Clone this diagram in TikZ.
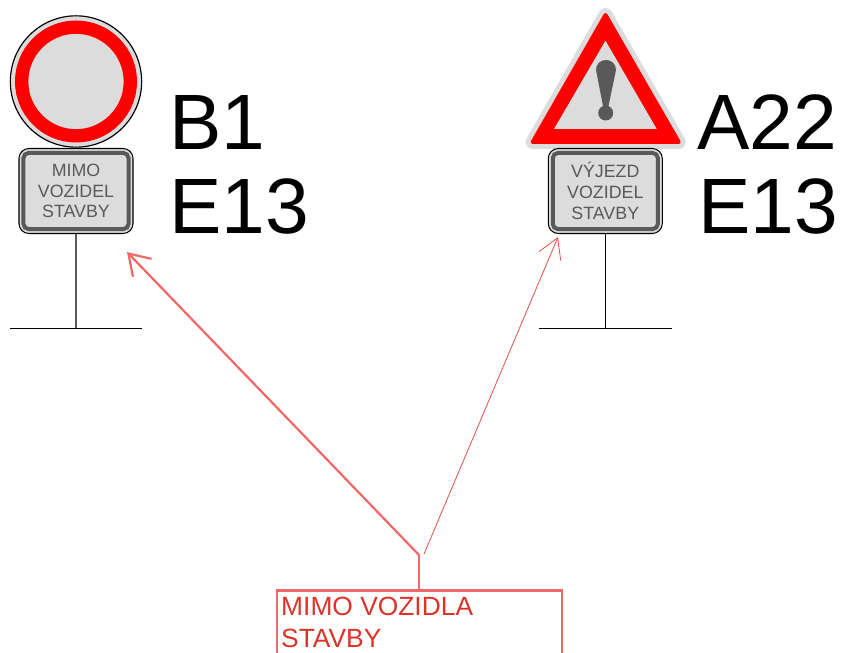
\documentclass[tikz,border=0pt]{standalone}
\usepackage{fontspec}
\setmainfont{Liberation Sans}
\usetikzlibrary{arrows.meta,positioning}
\definecolor{SignGray}{HTML}{DCDCDC}
\definecolor{SignDark}{HTML}{595959}
\definecolor{NoteLine}{HTML}{F0686A}
\definecolor{NoteText}{HTML}{DD3329}
\tikzset{
  signcode/.style={anchor=base west,inner sep=0pt,font=\fontsize{67}{67}\selectfont},
  disc/.style={circle,draw=black,fill=SignGray,line width=1pt,minimum size=3.94cm,inner sep=0pt},
  ring/.style={circle,draw=red,line width=.4cm,minimum size=3.26cm,inner sep=0pt},
  plate/.style={draw=black,fill=SignGray,line width=.9pt,rounded corners=.3cm,minimum height=2.55cm,inner sep=0pt},
  platein/.style={draw=SignDark,fill=SignGray,line width=.12cm,rounded corners=.15cm,minimum height=2.28cm,inner sep=0pt,
    text=SignDark,align=center,font=\fontsize{15.2}{17.7}\selectfont},
  note/.style={draw=NoteLine,line width=2.3pt,anchor=north west,minimum width=8.55cm,minimum height=3cm,inner sep=0pt},
  notetext/.style={anchor=north west,inner sep=0pt,align=left,text=NoteText,font=\fontsize{22.5}{27.2}\selectfont},
}
\begin{document}
\begin{tikzpicture}[x=.03cm,y=-.03cm]
\useasboundingbox (0,0) rectangle (841,653);
\clip (0,0) rectangle (841,653);
% left sign
\node[disc] (discB) at (76,81.5) {};
\node[ring] (ringB) at (discB) {};
\node[plate,minimum width=3.42cm] (plateB) at (76,191) {};
\node[platein,minimum width=3.15cm] (textB) at (plateB) {MIMO\\VOZIDEL\\STAVBY};
\coordinate (footB) at (76,328);
\coordinate (baseBl) at (10,328);
\coordinate (baseBr) at (142,328);
\draw[line width=1.2pt,color=SignDark] (plateB.south) -- (footB);
\draw[line width=.8pt] (baseBl) -- (baseBr);
\node[signcode] (codeB) at (169,150) {B1};
\node[signcode] (codeBe) at (169,234) {E13};
% right sign
\draw[line width=.42cm,color=SignGray,fill=SignGray,line join=round] (605.5,15) -- (678.7,142) -- (532.7,142) -- cycle;
\draw[line width=.12cm,color=red,fill=red,line join=round] (605.5,15) -- (678.7,142) -- (532.7,142) -- cycle;
\fill[SignGray] (605.5,40.7) -- (656.7,129) -- (554,129) -- cycle;
\fill[SignDark] (596,70) .. controls (596,56.7) and (616,56.7) .. (616,70) -- (608.5,106) -- (603,106) -- cycle;
\fill[SignDark] (605.7,113) circle (.225cm);
\node[plate,minimum width=3.42cm] (plateA) at (605.3,191) {};
\node[platein,minimum width=3.15cm] (textA) at (plateA) {VÝJEZD\\VOZIDEL\\STAVBY};
\coordinate (footA) at (605.3,328);
\coordinate (baseAl) at (539,328);
\coordinate (baseAr) at (672,328);
\draw[line width=.8pt] (plateA.south) -- (footA);
\draw[line width=.8pt] (baseAl) -- (baseAr);
\node[signcode] (codeA) at (697,150) {A22};
\node[signcode] (codeAe) at (698,234) {E13};
% note
\node[note] (noteBox) at (275.6,589) {};
\node[notetext] (noteText) at (281,596.5) {MIMO VOZIDLA\\STAVBY};
\coordinate (fork) at (419,555);
\coordinate (forkA) at (424,554);
\coordinate (tipB) at (127,252);
\coordinate (tipA) at (558,237);
\draw[line width=2.3pt,color=NoteLine] (noteBox.north -| fork) -- (fork);
\draw[line width=1.9pt,color=NoteLine,-{Straight Barb[length=17pt,width=22pt]}] (fork) -- (tipB);
\draw[line width=.7pt,color=NoteText!85!white,-{Straight Barb[length=17pt,width=20pt]}] (forkA) -- (tipA);
\end{tikzpicture}
\end{document}
